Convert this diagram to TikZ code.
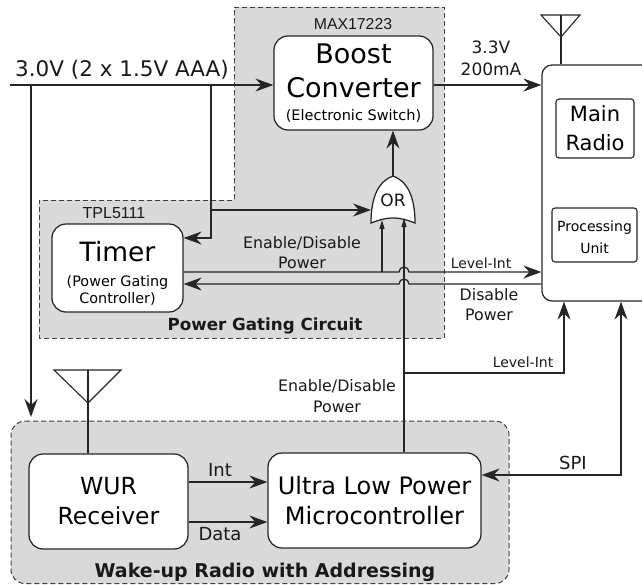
\documentclass[tikz,border=0pt]{standalone}
\usepackage{fontspec}
\setmainfont{DejaVu Sans}
\newfontfamily\helv{Liberation Sans}
\usetikzlibrary{arrows.meta}
\newcommand{\fsz}[2]{\fontsize{#1}{#2}\selectfont}
\tikzset{
  x=1pt,y=-1pt,
  wire/.style={line width=1.25pt,draw=black!85},
  bighead/.tip={Stealth[length=18pt,width=13pt,inset=6pt]},
  arr/.style={wire,-bighead},
  sarr/.style={wire,-{Stealth[length=9pt,width=5pt,inset=0pt]}},
  region/.style={fill=black!15,draw=black!75,line width=1pt,dash pattern=on 5pt off 3pt},
  blockbox/.style={draw=black!85,fill=white,line width=1.25pt,rounded corners=14pt,inner sep=0pt,align=center},
  smallbox/.style={draw=black!85,fill=white,line width=1.1pt,rounded corners=3pt,inner sep=0pt,align=center},
  txt/.style={inner sep=0pt,align=center,text=black!90},
  antenna/.style={draw=black!85,line width=1.1pt,line join=miter},
}
\begin{document}
\begin{tikzpicture}
\useasboundingbox (0,0) rectangle (642,584);
\fill[white] (0,0) rectangle (642,584);
% regions
\path[region] (234,7) -- (444,7) -- (444,338) -- (39,338) -- (39,200) -- (234,200) -- cycle;
\path[region,rounded corners=14pt] (11,421) -- (509,421) -- (509,583.5) -- (11,583.5) -- cycle;
% boxes
\node[blockbox,minimum width=159pt,minimum height=94pt,font=\fsz{27}{34}] (boost) at (353.5,83)
  {Boost\\Converter\\[-11pt]{\fsz{14.5}{34}(Electronic Switch)}};
\node[blockbox,minimum width=131pt,minimum height=88pt,font=\fsz{26.5}{17}] (timer) at (117.5,268)
  {\rule{0pt}{30pt}Timer\\[8pt]{\fsz{14.4}{17}(Power Gating}\\{\fsz{14.4}{17}Controller)}};
\node[draw=black!85,fill=white,line width=1.25pt,rounded corners=10pt,minimum width=110pt,minimum height=236pt,inner sep=0pt] (radio) at (597,183) {};
\node[smallbox,minimum width=78pt,minimum height=59pt,font=\fsz{21}{29}] (main) at (595,128.5)
  {Main\\Radio};
\node[smallbox,minimum width=85pt,minimum height=54pt,font=\fsz{14}{22}] (proc) at (594.5,235)
  {\rule{0pt}{15pt}Processing\\Unit};
\node[blockbox,minimum width=159pt,minimum height=95pt,font=\fsz{23.5}{30}] (wur) at (108.5,501.5)
  {WUR\\Receiver};
\node[blockbox,minimum width=213pt,minimum height=95pt,font=\fsz{24}{30}] (mcu) at (374.5,500.5)
  {Ultra Low Power\\Microcontroller};
% OR gate
\path[draw=black!85,fill=white,line width=1.25pt]
  (393,176) .. controls (407,181) and (415,196) .. (415,223)
  .. controls (407,220) and (401,218) .. (393,218)
  .. controls (385,218) and (379,220) .. (371,223)
  .. controls (371,196) and (379,181) .. (393,176) -- cycle;
\node[txt,font=\fsz{17}{20}] (orlabel) at (393,200) {OR};
\coordinate (ortop) at (393,176);
\coordinate (orleft) at (371,210);
\coordinate (orina) at (382,220);
\coordinate (orinb) at (404,218);
% antennas
\coordinate (anta) at (561,15);
\coordinate (antb) at (88,370);
\draw[antenna] (541,15) -- (580,15) -- (561,37) -- cycle;
\draw[antenna] (anta) -- (anta |- radio.north);
\draw[antenna] (54,370) -- (121,370) -- (88,403) -- cycle;
\draw[antenna] (antb) -- (antb |- wur.north);
% wires
\coordinate (src) at (10,85);
\coordinate (bra) at (31,85);
\coordinate (brb) at (211,85);
\coordinate (brc) at (211,210);
\coordinate (wake) at (31,417);
\draw[arr] (src) -- (src -| boost.west);
\draw[arr] (bra) -- (wake);
\draw[arr] (brb) -- (211,238) -- (timer.east |- 0,238);
\draw[arr] (brc) -- (orleft);
\draw[arr] (ortop) -- (boost.south -| ortop);
\draw[arr] (boost.east |- src) -- (radio.west |- src);
\coordinate (hopa) at (404,272);
\coordinate (hopb) at (404,284);
\draw[arr] (timer.east |- hopa) -- (399,272) arc[start angle=180,end angle=0,radius=5pt] -- (radio.west |- hopa);
\draw[arr] (radio.west |- hopb) -- (409,284) arc[start angle=0,end angle=180,radius=5pt] -- (timer.east |- hopb);
\draw[sarr] (orina |- hopa) -- (orina);
\draw[sarr] (orinb |- mcu.north) -- (orinb);
\coordinate (lvl) at (404,373);
\draw[arr] (lvl) -- (564,373) -- (radio.south -| 564,0);
\coordinate (spi) at (621,475);
\draw[wire,bighead-bighead] (mcu.east |- spi) -- (spi) -- (radio.south -| spi);
\draw[arr] (wur.east |- 0,482) -- (mcu.west |- 0,482);
\draw[arr] (wur.east |- 0,522) -- (mcu.west |- 0,522);
% labels
\node[txt,font=\fsz{21.5}{24}] (supply) at (122,70) {3.0V (2 x 1.5V AAA)};
\node[txt,font=\helv\fsz{15.8}{18}] (maxlabel) at (353,24) {MAX17223};
\node[txt,font=\helv\fsz{16}{18}] (tpllabel) at (114,213) {TPL5111};
\node[txt,font=\fsz{17}{22}] (out) at (491,58) {3.3V\\200mA};
\node[txt,font=\fsz{15.8}{20}] (en) at (302,253) {Enable/Disable\\Power};
\node[txt,font=\fsz{14}{16}] (lvla) at (481,263) {Level-Int};
\node[txt,font=\fsz{15.8}{20}] (dis) at (489,305) {Disable\\Power};
\node[txt,font=\bfseries\fsz{16.7}{19}] (pgc) at (265,326) {Power Gating Circuit};
\node[txt,font=\fsz{14}{16}] (lvlb) at (523,362) {Level-Int};
\node[txt,font=\fsz{15.8}{21}] (en2) at (337,396) {Enable/Disable\\Power};
\node[txt,font=\fsz{18}{20}] (spilabel) at (573,463) {SPI};
\node[txt,font=\fsz{18}{20}] (intlabel) at (220,470) {Int};
\node[txt,font=\fsz{18}{20}] (datalabel) at (220,534) {Data};
\node[txt,font=\bfseries\fsz{19}{22}] (wrl) at (265,572) {Wake-up Radio with Addressing};
\end{tikzpicture}
\end{document}
